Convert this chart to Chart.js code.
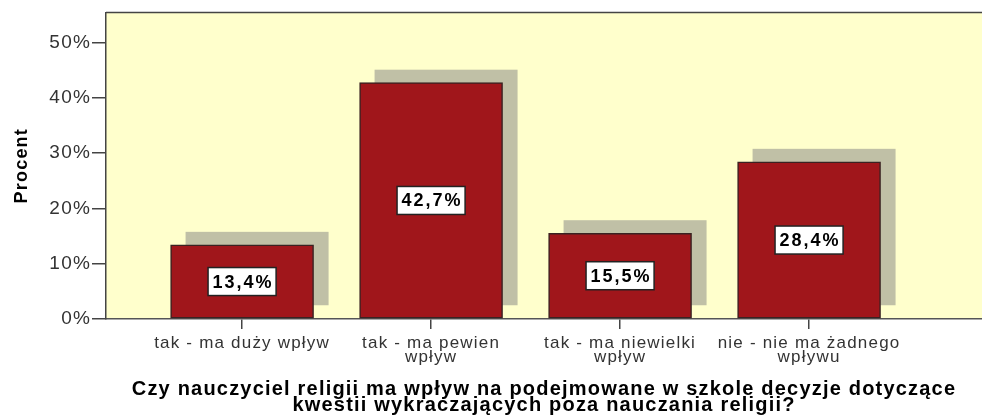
<!DOCTYPE html>
<html>
<head>
<meta charset="utf-8">
<script src="https://cdn.jsdelivr.net/npm/chart.js@4"></script>
<style>
  html, body { margin: 0; padding: 0; background: #fff; }
  #wrap { width: 982px; height: 417px; }
</style>
</head>
<body>
<div id="wrap"><canvas id="chart"></canvas></div>
<script>
// --- DATA ---
const categories = [
    'tak - ma duży wpływ',
    ['tak - ma pewien', 'wpływ'],
    ['tak - ma niewielki', 'wpływ'],
    ['nie - nie ma żadnego', 'wpływu']
];
const percents = [13.4, 42.7, 15.5, 28.4];
const yTicks = [0, 10, 20, 30, 40, 50];
const yTitle = 'Procent';
const xTitle = ['Czy nauczyciel religii ma wpływ na podejmowane w szkole decyzje dotyczące', 'kwestii wykraczających poza nauczania religii?'];

const fontFamily = '"Liberation Sans", Arial, sans-serif';
const spacing = '1.2px';

// --- PLUGINS ---
// SPSS-style wide letter spacing for all axis text
const letterSpacing = {
    id: 'letterSpacing',
    beforeUpdate(chart) { chart.ctx.letterSpacing = spacing; },
    beforeLayout(chart) { chart.ctx.letterSpacing = spacing; },
    beforeDraw(chart) { chart.ctx.letterSpacing = spacing; }
};

// plot background + top frame line
const plotFrame = {
    id: 'plotFrame',
    beforeDraw(chart) {
        const { ctx, chartArea: a } = chart;
        ctx.save();
        ctx.fillStyle = '#FFFFCC';
        ctx.fillRect(a.left, a.top, a.right - a.left, a.bottom - a.top);
        ctx.strokeStyle = '#444';
        ctx.lineWidth = 1.5;
        ctx.beginPath();
        ctx.moveTo(a.left, a.top);
        ctx.lineTo(a.right, a.top);
        ctx.stroke();
        ctx.restore();
    }
};

// grey 3D shadow behind each bar
const barShadow = {
    id: 'barShadow',
    beforeDatasetsDraw(chart) {
        const { ctx } = chart;
        ctx.save();
        ctx.fillStyle = '#C0C0A6';
        chart.getDatasetMeta(0).data.forEach(bar => {
            const p = bar.getProps(['x', 'y', 'base', 'width'], true);
            ctx.fillRect(p.x - p.width / 2 + 15, p.y - 13, p.width, p.base - p.y);
        });
        ctx.restore();
    }
};

// boxed value labels in the middle of each bar
const valueBoxes = {
    id: 'valueBoxes',
    afterDatasetsDraw(chart) {
        const { ctx } = chart;
        ctx.save();
        ctx.letterSpacing = '2px';
        ctx.font = 'bold 18px ' + fontFamily;
        ctx.textAlign = 'center';
        ctx.textBaseline = 'middle';
        chart.getDatasetMeta(0).data.forEach((bar, i) => {
            const p = bar.getProps(['x', 'y', 'base'], true);
            const txt = percents[i].toFixed(1).replace('.', ',') + '%';
            const w = ctx.measureText(txt).width + 7;
            const h = 28;
            const cx = p.x, cy = (p.y + p.base) / 2;
            ctx.fillStyle = '#fff';
            ctx.fillRect(cx - w / 2, cy - h / 2, w, h);
            ctx.strokeStyle = '#222';
            ctx.lineWidth = 1.5;
            ctx.strokeRect(cx - w / 2, cy - h / 2, w, h);
            ctx.fillStyle = '#000';
            ctx.fillText(txt, cx + 1, cy + 1);
        });
        ctx.restore();
    }
};

// --- CHART ---
new Chart(document.getElementById('chart'), {
    type: 'bar',
    data: {
        datasets: [{
            data: percents.map((v, i) => ({ x: i, y: v })),
            backgroundColor: '#A0161B',
            borderColor: '#3a2222',
            borderWidth: 1.5,
            borderSkipped: false,
            barThickness: 143
        }]
    },
    options: {
        responsive: true,
        maintainAspectRatio: false,
        animation: false,
        layout: { padding: { top: 10, right: 0, left: 0, bottom: 0 } },
        plugins: { legend: { display: false }, tooltip: { enabled: false } },
        scales: {
            x: {
                type: 'linear',
                offset: false,
                min: -0.72,
                max: 3.915,
                afterBuildTicks: axis => { axis.ticks = categories.map((_, i) => ({ value: i })); },
                afterFit: axis => { axis.height = 98; },
                ticks: {
                    autoSkip: false, maxRotation: 0, minRotation: 0, padding: 7,
                    color: '#333',
                    font: { family: fontFamily, size: 17, lineHeight: 0.85 },
                    callback: v => categories[v]
                },
                grid: { drawOnChartArea: false, offset: false, tickLength: 10, color: '#444', lineWidth: 1.5 },
                border: { color: '#555', width: 1.5 },
                title: {
                    display: true, text: xTitle, color: '#000',
                    font: { family: fontFamily, size: 20, weight: 'bold', lineHeight: '15.5px' },
                    padding: { top: 4, bottom: 4 }
                }
            },
            y: {
                min: 0,
                max: 55.4,
                afterBuildTicks: axis => { axis.ticks = yTicks.map(v => ({ value: v })); },
                afterFit: axis => { axis.width = 106; },
                ticks: {
                    includeBounds: false, padding: 1,
                    color: '#333',
                    font: { family: fontFamily, size: 19 },
                    callback: v => v + '%'
                },
                grid: { drawOnChartArea: false, tickLength: 14, color: '#444', lineWidth: 1.5 },
                border: { color: '#444', width: 1.5 },
                title: {
                    display: true, text: yTitle, color: '#000',
                    font: { family: fontFamily, size: 18, weight: 'bold' },
                    padding: { top: 11, bottom: 0 }
                }
            }
        }
    },
    plugins: [letterSpacing, plotFrame, barShadow, valueBoxes]
});
</script>
</body>
</html>
